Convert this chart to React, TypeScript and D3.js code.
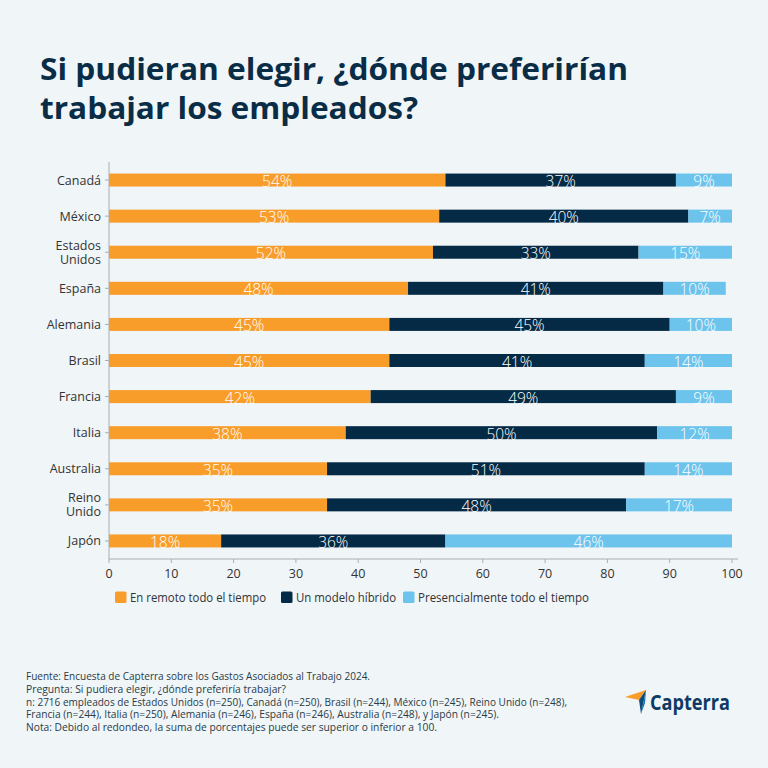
import React from "react";
import * as d3 from "d3";

const categories = ["Canadá", "México", "Estados Unidos", "España", "Alemania", "Brasil", "Francia", "Italia", "Australia", "Reino Unido", "Japón"];
const remote = [54, 53, 52, 48, 45, 45, 42, 38, 35, 35, 18];
const hybrid = [37, 40, 33, 41, 45, 41, 49, 50, 51, 48, 36];
const office = [9, 7, 15, 10, 10, 14, 9, 12, 14, 17, 46];
const seriesNames = ["En remoto todo el tiempo", "Un modelo híbrido", "Presencialmente todo el tiempo"];
const xTicks = [0, 10, 20, 30, 40, 50, 60, 70, 80, 90, 100];
const titleLines = ["Si pudieran elegir, ¿dónde preferirían", "trabajar los empleados?"];
const footerLines = [
  "Fuente: Encuesta de Capterra sobre los Gastos Asociados al Trabajo 2024.",
  "Pregunta: Si pudiera elegir, ¿dónde preferiría trabajar?",
  "n: 2716 empleados de Estados Unidos (n=250), Canadá (n=250), Brasil (n=244), México (n=245), Reino Unido (n=248),",
  "Francia (n=244), Italia (n=250), Alemania (n=246), España (n=246), Australia (n=248), y Japón (n=245).",
  "Nota: Debido al redondeo, la suma de porcentajes puede ser superior o inferior a 100.",
];

const COLORS = ["#F99D2A", "#042A45", "#6CC4EC"];
const BG = "#F0F5F8";
const NAVY = "#0A2D47";
const FONT = "'Open Sans', sans-serif";

export default function App() {
  const W = 768, H = 768;
  const x = d3.scaleLinear().domain([0, 100]).range([109, 732]);
  const y = d3.scaleBand<string>().domain(categories).range([162, 559]).paddingInner(0.64).paddingOuter(0.32);

  const rows = categories.map((c, i) => ({ c, vals: [remote[i], hybrid[i], office[i]] }));
  const stack = d3.stack<any>().keys(["0", "1", "2"]).value((d: any, k: string) => d.vals[+k]);
  const stacked = stack(rows as any);

  const titleWidths = [588, 378];
  const footerWidths = [344, 260, 541, 473, 411];
  const legendX = [115, 281, 403];
  const legendW = [136, 100, 171];

  return (
    <svg width={W} height={H} style={{ display: "block", position: "absolute", left: 0, top: 0 }} fontFamily={FONT}>
      <rect x={0} y={0} width={W} height={H} fill={BG} />
      {titleLines.map((t, i) => (
        <text key={i} x={40} y={80 + i * 39} fontSize={31} fontWeight={700} fill={NAVY}
          textLength={titleWidths[i]} lengthAdjust="spacingAndGlyphs">{t}</text>
      ))}

      {/* bars */}
      {stacked.map((layer, si) => (
        <g key={si}>
          {layer.map((d: any, i: number) => {
            const c = categories[i];
            const x0 = x(d[0]), x1 = x(d[1]);
            const yb = y(c)!;
            return (
              <g key={c}>
                <rect x={x0} y={yb} width={x1 - x0} height={y.bandwidth()} fill={COLORS[si]} />
                <text x={(x0 + x1) / 2} y={yb + y.bandwidth() / 2 + 1} dominantBaseline="central" textAnchor="middle"
                  fontSize={15.5} fontWeight={300} fill="#FFFFFF">{`${d[1] - d[0]}%`}</text>
              </g>
            );
          })}
        </g>
      ))}

      {/* y axis */}
      <line x1={109} x2={109} y1={162} y2={559} stroke="#A8AEB3" strokeWidth={1} />
      {categories.map((c) => {
        const cy = y(c)! + y.bandwidth() / 2;
        const parts = c === "Estados Unidos" ? ["Estados", "Unidos"] : c === "Reino Unido" ? ["Reino", "Unido"] : [c];
        return (
          <g key={c}>
            <line x1={105} x2={109} y1={cy} y2={cy} stroke="#A8AEB3" />
            {parts.map((p, j) => (
              <text key={j} x={101} y={cy + (j - (parts.length - 1) / 2) * 14} dominantBaseline="central" textAnchor="end"
                fontSize={12.5} fill="#333333">{p}</text>
            ))}
          </g>
        );
      })}

      {/* x axis */}
      <line x1={109} x2={738} y1={559} y2={559} stroke="#A8AEB3" strokeWidth={1} />
      {xTicks.map((t) => (
        <g key={t}>
          <line x1={x(t)} x2={x(t)} y1={559} y2={563} stroke="#A8AEB3" />
          <text x={x(t)} y={573} dominantBaseline="central" textAnchor="middle" fontSize={12.5} fill="#333333">{t}</text>
        </g>
      ))}

      {/* legend */}
      {seriesNames.map((s, i) => (
        <g key={s}>
          <rect x={legendX[i]} y={591.5} width={11.5} height={11.5} rx={1.5} fill={COLORS[i]} />
          <text x={legendX[i] + 15} y={597.5} dominantBaseline="central" fontSize={12.5} fill="#333333"
            textLength={legendW[i]} lengthAdjust="spacingAndGlyphs">{s}</text>
        </g>
      ))}

      {/* footer */}
      {footerLines.map((t, i) => (
        <text key={i} x={26} y={680 + i * 12.8} fontSize={11} fill="#2A3B47"
          textLength={footerWidths[i]} lengthAdjust="spacingAndGlyphs">{t}</text>
      ))}

      {/* logo */}
      <g>
        <polygon points="625,697 646,690 639,700" fill="#F99D2A" />
        <polygon points="646,690 639,700 641,714" fill="#0E4D7A" />
        <polygon points="646,690 641,714 645,703" fill="#1B6FA8" />
        <text x={650} y={710} fontSize={22} fontWeight={700} fill="#0E3A63"
          textLength={80} lengthAdjust="spacingAndGlyphs">Capterra</text>
      </g>
    </svg>
  );
}
